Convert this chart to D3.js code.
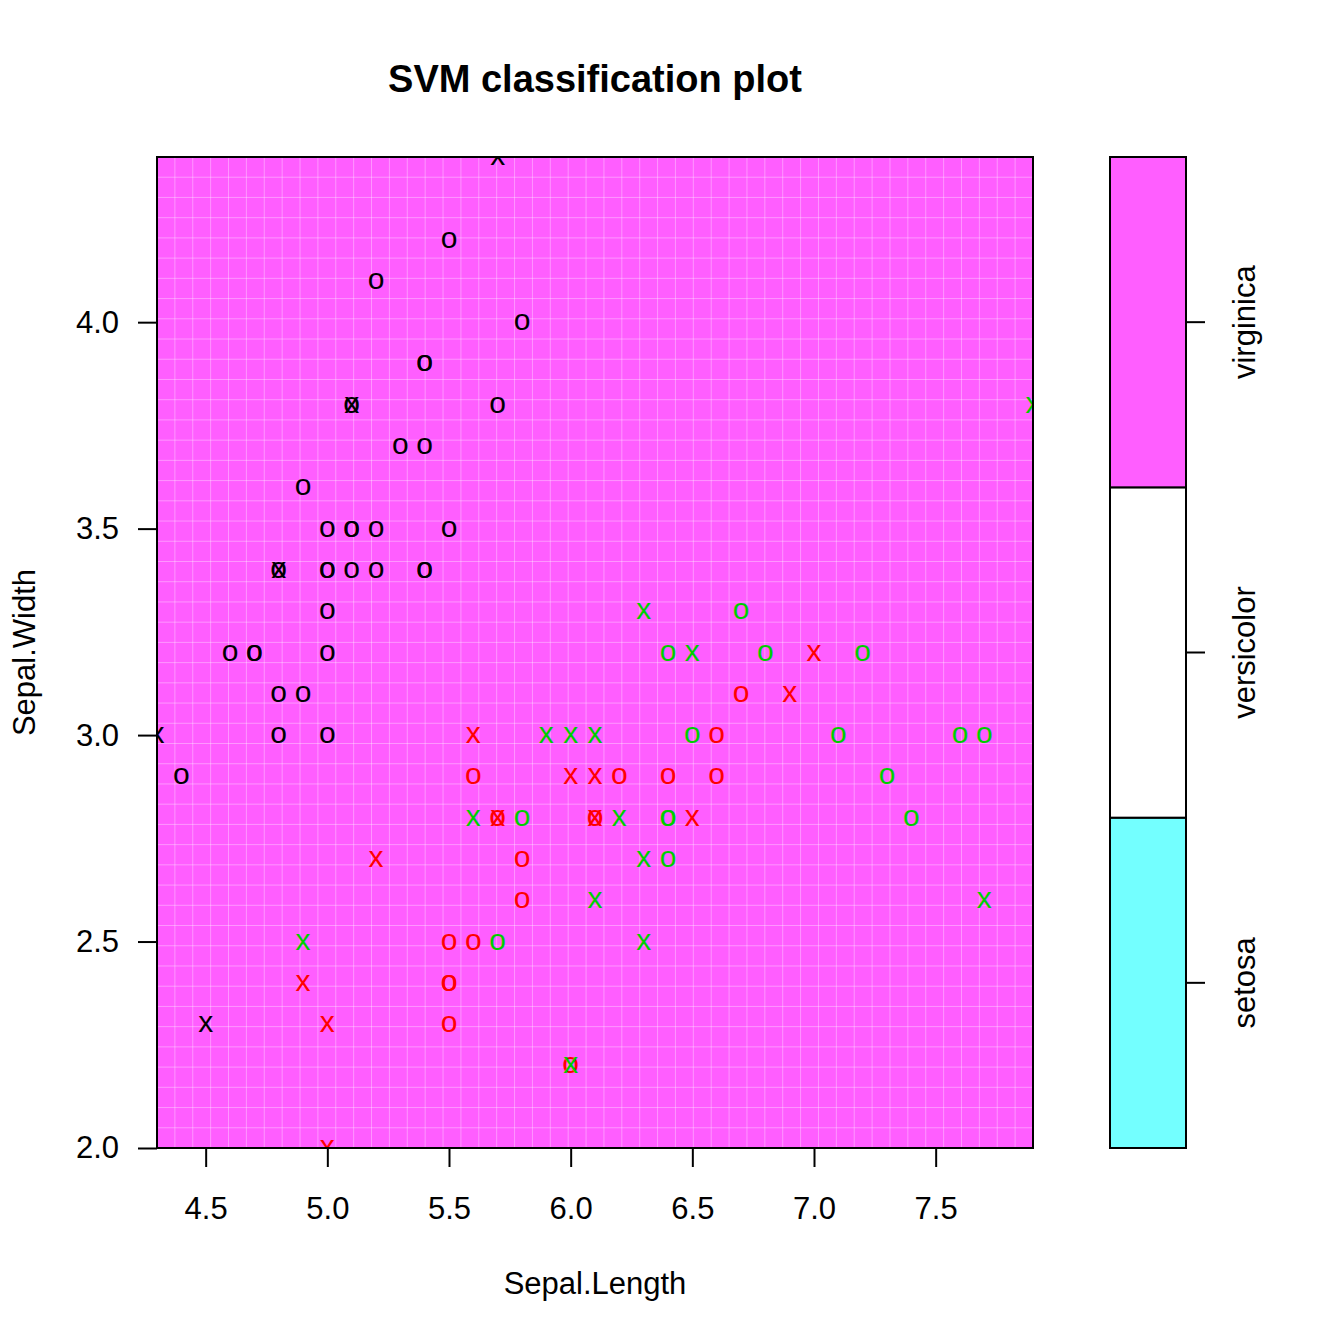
<!DOCTYPE html>
<html>
<head>
<meta charset="utf-8">
<script src="https://cdn.jsdelivr.net/npm/d3@7"></script>
<style>
  body { margin: 0; background: #fff; }
  text { font-family: "Liberation Sans", Arial, Helvetica, sans-serif; }
</style>
</head>
<body>
<div id="chart"></div>
<script>
// classes and their colours
const species = ["setosa", "versicolor", "virginica"]
const regionColors = ["#73FFFF", "#FFFFFF", "#FF5EFF"]
const symbolColors = ["#000000", "#FF0000", "#00CD00"]
const predictedClass = "virginica" // every cell of the decision grid

// [Sepal.Length, Sepal.Width] for the plain observations ("o")
const setosaObs = [
  [5.5, 4.2], [5.2, 4.1], [5.8, 4.0], [5.4, 3.9], [5.4, 3.9], [5.1, 3.8], [5.7, 3.8],
  [5.3, 3.7], [5.4, 3.7], [4.9, 3.6], [5.0, 3.5], [5.1, 3.5], [5.1, 3.5], [5.2, 3.5],
  [5.5, 3.5], [4.8, 3.4], [5.0, 3.4], [5.0, 3.4], [5.1, 3.4], [5.2, 3.4], [5.4, 3.4],
  [5.4, 3.4], [5.0, 3.3], [4.6, 3.2], [4.7, 3.2], [4.7, 3.2], [5.0, 3.2], [4.8, 3.1],
  [4.9, 3.1], [4.8, 3.0], [5.0, 3.0], [4.4, 2.9]
]
const versicolorObs = [
  [5.6, 2.9], [5.7, 2.8], [5.8, 2.7], [5.8, 2.6], [5.5, 2.5], [5.6, 2.5], [5.5, 2.4],
  [5.5, 2.4], [5.5, 2.3], [6.0, 2.2], [6.2, 2.9], [6.1, 2.8], [6.4, 2.9], [6.6, 2.9],
  [6.6, 3.0], [6.7, 3.1]
]
const virginicaObs = [
  [5.7, 2.5], [5.8, 2.8], [6.4, 2.8], [6.4, 2.8], [6.4, 2.7], [6.5, 3.0], [6.7, 3.3],
  [6.4, 3.2], [6.8, 3.2], [7.2, 3.2], [7.1, 3.0], [7.6, 3.0], [7.7, 3.0], [7.3, 2.9],
  [7.4, 2.8]
]

// support vectors ("x")
const setosaSV = [[5.7, 4.4], [5.1, 3.8], [4.8, 3.4], [4.3, 3.0], [4.5, 2.3]]
const versicolorSV = [
  [5.6, 3.0], [5.7, 2.8], [5.2, 2.7], [4.9, 2.4], [5.0, 2.3], [5.0, 2.0], [6.0, 2.9],
  [6.1, 2.9], [6.1, 2.8], [6.5, 2.8], [6.9, 3.1], [7.0, 3.2]
]
const virginicaSV = [
  [4.9, 2.5], [5.6, 2.8], [5.9, 3.0], [6.0, 3.0], [6.1, 3.0], [6.2, 2.8], [6.1, 2.6],
  [6.3, 2.7], [6.3, 2.5], [6.3, 3.3], [6.5, 3.2], [7.7, 2.6], [7.9, 3.8], [6.0, 2.2]
]

const xTicks = [4.5, 5.0, 5.5, 6.0, 6.5, 7.0, 7.5]
const yTicks = [2.0, 2.5, 3.0, 3.5, 4.0]
const gridN = 50

const margin = { top: 157, left: 157 }
const width = 876
const height = 991

const svg = d3
  .select("#chart")
  .append("svg")
  .attr("width", 1344)
  .attr("height", 1344)

svg.append("rect").attr("width", 1344).attr("height", 1344).attr("fill", "#fff")

const g = svg.append("g").attr("transform", `translate(${margin.left},${margin.top})`)

// scales
const xscale = d3.scaleLinear().domain([4.3, 7.9]).range([0, width])
const yscale = d3.scaleLinear().domain([2.0, 4.4]).range([height, 0])
const colorScale = d3.scaleOrdinal().domain(species).range(regionColors)
const symbolScale = d3.scaleOrdinal().domain(species).range(symbolColors)

// decision region (filled grid)
g.append("rect")
  .attr("width", width)
  .attr("height", height)
  .attr("fill", colorScale(predictedClass))

// faint seams between the grid cells
const xStep = (xscale.domain()[1] - xscale.domain()[0]) / (gridN - 1)
const yStep = (yscale.domain()[1] - yscale.domain()[0]) / (gridN - 1)
const seamsX = d3.range(1, gridN - 1).map((i) => xscale.domain()[0] + i * xStep)
const seamsY = d3.range(1, gridN - 1).map((i) => yscale.domain()[0] + i * yStep)

g.selectAll(".seamx")
  .data(seamsX)
  .join("line")
  .attr("x1", (d) => xscale(d))
  .attr("x2", (d) => xscale(d))
  .attr("y1", 0)
  .attr("y2", height)
  .attr("stroke", "#fff")
  .attr("stroke-opacity", 0.35)
  .attr("stroke-width", 1)

g.selectAll(".seamy")
  .data(seamsY)
  .join("line")
  .attr("y1", (d) => yscale(d))
  .attr("y2", (d) => yscale(d))
  .attr("x1", 0)
  .attr("x2", width)
  .attr("stroke", "#fff")
  .attr("stroke-opacity", 0.35)
  .attr("stroke-width", 1)

// clip the symbols to the plot region
svg.append("clipPath").attr("id", "plotclip")
  .append("rect").attr("width", width).attr("height", height)

const pts = g.append("g").attr("clip-path", "url(#plotclip)")

const drawSymbols = (rows, cls, sym) => {
  pts.append("g")
    .selectAll("text")
    .data(rows)
    .join("text")
    .attr("x", (d) => xscale(d[0]))
    .attr("y", (d) => yscale(d[1]) + 8)
    .attr("text-anchor", "middle")
    .attr("font-size", 30)
    .attr("fill", symbolScale(cls))
    .text(sym)
}

// observations first, support vectors on top
drawSymbols(setosaObs, "setosa", "o")
drawSymbols(versicolorObs, "versicolor", "o")
drawSymbols(virginicaObs, "virginica", "o")
drawSymbols(setosaSV, "setosa", "x")
drawSymbols(versicolorSV, "versicolor", "x")
drawSymbols(virginicaSV, "virginica", "x")

// plot box
g.append("rect")
  .attr("width", width)
  .attr("height", height)
  .attr("fill", "none")
  .attr("stroke", "#000")
  .attr("stroke-width", 2)

// axes
const xaxis = d3.axisBottom(xscale).tickValues(xTicks).tickFormat(d3.format(".1f"))
  .tickSize(19).tickPadding(30)
const yaxis = d3.axisLeft(yscale).tickValues(yTicks).tickFormat(d3.format(".1f"))
  .tickSize(19).tickPadding(19)

const gx = g.append("g").attr("transform", `translate(0,${height})`).call(xaxis)
const gy = g.append("g").call(yaxis)

;[gx, gy].forEach((ax) => {
  ax.select(".domain").remove()
  ax.selectAll("line").attr("stroke", "#000").attr("stroke-width", 2)
  ax.selectAll("text").attr("font-size", 31).attr("fill", "#000")
    .style("font-family", '"Liberation Sans", Arial, sans-serif')
})

// titles
svg.append("text")
  .attr("x", margin.left + width / 2)
  .attr("y", 92)
  .attr("text-anchor", "middle")
  .attr("font-size", 38)
  .attr("font-weight", "bold")
  .text("SVM classification plot")

svg.append("text")
  .attr("x", margin.left + width / 2)
  .attr("y", 1294)
  .attr("text-anchor", "middle")
  .attr("font-size", 31)
  .text("Sepal.Length")

svg.append("text")
  .attr("transform", `translate(35,${margin.top + height / 2}) rotate(-90)`)
  .attr("text-anchor", "middle")
  .attr("font-size", 31)
  .text("Sepal.Width")

// colour key
const key = svg.append("g").attr("transform", `translate(1110,${margin.top})`)
const keyWidth = 76
const keyScale = d3.scaleBand().domain(species).range([height, 0])

key.selectAll("rect")
  .data(species)
  .join("rect")
  .attr("x", 0)
  .attr("y", (d) => keyScale(d))
  .attr("width", keyWidth)
  .attr("height", keyScale.bandwidth())
  .attr("fill", (d) => colorScale(d))
  .attr("stroke", "#000")
  .attr("stroke-width", 2)

const keyAxis = d3.axisRight(keyScale).tickSize(19).tickFormat("")
const gk = key.append("g").attr("transform", `translate(${keyWidth},0)`).call(keyAxis)
gk.select(".domain").remove()
gk.selectAll("line").attr("stroke", "#000").attr("stroke-width", 2)

key.selectAll(".keylabel")
  .data(species)
  .join("text")
  .attr("class", "keylabel")
  .attr("transform", (d) =>
    `translate(145,${keyScale(d) + keyScale.bandwidth() / 2}) rotate(-90)`)
  .attr("text-anchor", "middle")
  .attr("font-size", 31)
  .text((d) => d)
</script>
</body>
</html>
